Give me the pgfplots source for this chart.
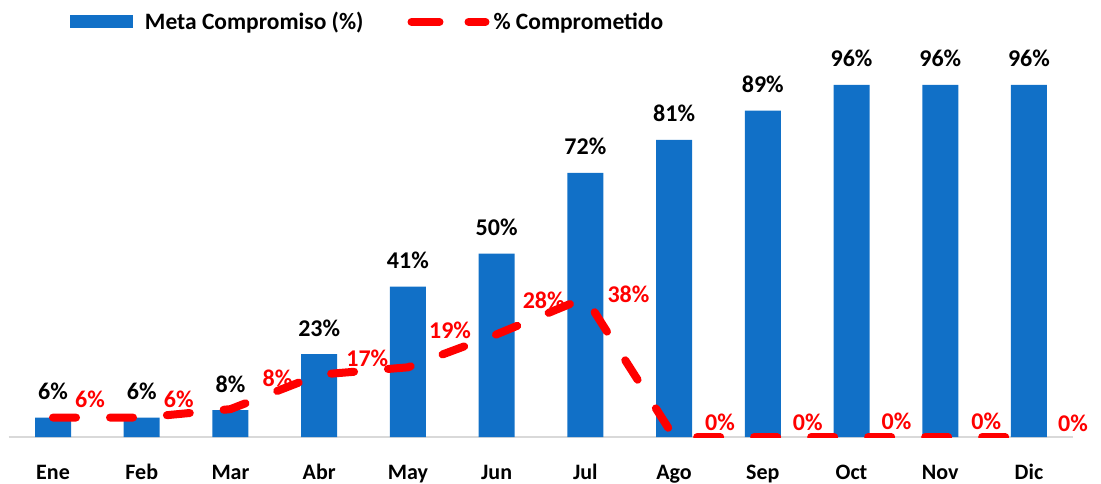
\documentclass[border=0pt]{standalone}
\usepackage{pgfplots}
\pgfplotsset{compat=1.18}
\usepackage{pgfplotstable}
\usepackage{fontspec}
\setmainfont{Carlito}
\definecolor{barblue}{RGB}{17,112,199}
\definecolor{linered}{RGB}{255,0,0}
\definecolor{axisgray}{RGB}{217,217,217}

\pgfplotstableread{
x bar lab
0 5.3 6
1 5.3 6
2 7.3 8
3 22.6 23
4 41 41
5 50 50
6 72 72
7 81 81
8 89 89
9 96 96
10 96 96
11 96 96
}\bardata

\pgfplotstableread{
x y
0 5.3
1 5.3
2 7.6
3 17
4 19
5 28
6 38
7 0
8 0
9 0
10 0
11 0
}\linedata

\pgfplotstableread{
x y lab
0.248 7.99 6
1.248 7.91 6
2.361 13.72 8
3.304 19.17 17
4.237 26.92 19
5.293 34.91 28
6.248 36.73 38
7.349 1.72 0
8.338 1.90 0
9.338 2.10 0
10.349 2.10 0
11.327 1.45 0
}\linelabels

\begin{document}
\begin{tikzpicture}
\useasboundingbox (0,0) rectangle (1101pt,483pt);
\begin{axis}[
  at={(8.65pt,46pt)}, anchor=south west,
  scale only axis, width=1064.7pt, height=366.7pt,
  xmin=-0.5, xmax=11.5, ymin=0, ymax=100,
  axis y line=none,
  axis x line*=bottom,
  x axis line style={draw=axisgray, line width=2pt, -},
  xtick={0,...,11},
  xticklabels={Ene,Feb,Mar,Abr,May,Jun,Jul,Ago,Sep,Oct,Nov,Dic},
  major tick length=0pt,
  xticklabel style={anchor=base, inner sep=0pt, yshift=-42pt,
    font=\fontsize{22}{26}\selectfont\bfseries, text=black},
  /pgf/number format/assume math mode=true,
  legend columns=-1,
  legend style={at={(0.0576,1.132)}, anchor=west, draw=none, fill=none,
    inner sep=0pt, outer sep=0pt,
    nodes={inner sep=0pt, anchor=west},
    font=\fontsize{23.5}{27}\selectfont\bfseries,
    /tikz/every odd column/.append style={column sep=12pt},
    /tikz/every even column/.append style={column sep=44pt}},
]
\addplot[ybar, bar width=36pt, fill=barblue, draw=none,
  legend image code/.code={\fill[barblue] (0pt,-6.5pt) rectangle (63pt,6.5pt);},
  point meta=explicit,
  nodes near coords={\pgfmathprintnumber[fixed,precision=0]{\pgfplotspointmeta}\%},
  every node near coord/.append style={anchor=base, inner sep=0pt, yshift=18pt,
    text=black, font=\fontsize{24}{28}\selectfont\bfseries}]
  table[x=x, y=bar, meta=lab]{\bardata};
\addlegendentry{Meta Compromiso (\%)}
\addplot[linered, line width=8pt, line cap=round, line join=round,
  dash pattern=on 23pt off 34pt, mark=none,
  legend image code/.code={\draw[linered, line width=8pt, line cap=round, dash pattern=on 24pt off 33pt] (4pt,0pt) -- (68pt,0pt); \path (0pt,0pt) -- (74pt,0pt);}]
  table[x=x, y=y]{\linedata};
\addlegendentry{\hspace{-8pt}\% Comprometido}
\addplot[draw=none, mark=none, forget plot,
  point meta=explicit,
  nodes near coords={\pgfmathprintnumber[fixed,precision=0]{\pgfplotspointmeta}\%},
  every node near coord/.append style={anchor=base west, inner sep=0pt,
    text=linered, font=\fontsize{24}{28}\selectfont\bfseries}]
  table[x=x, y=y, meta=lab]{\linelabels};
\end{axis}
\end{tikzpicture}
\end{document}
